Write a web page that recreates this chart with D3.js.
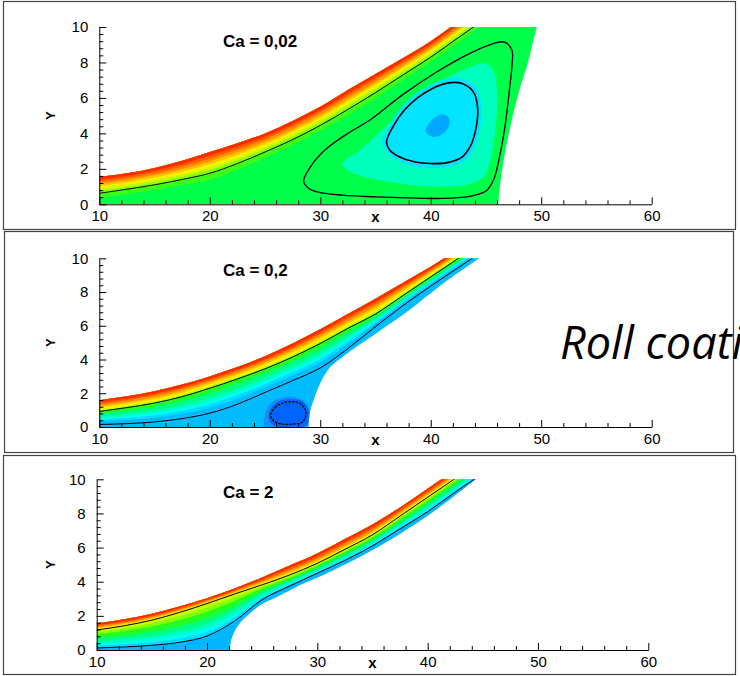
<!DOCTYPE html>
<html>
<head>
<meta charset="utf-8">
<script src="https://cdn.jsdelivr.net/npm/d3@7"></script>
<style>
  body { margin: 0; background: #fff; }
  svg { display: block; }
</style>
</head>
<body>
<script>
const xGrid = [10, 12.5, 15, 17.5, 20, 22.5, 25, 27.5, 30, 32.5, 35, 37.5, 40, 42.5, 45, 47.5, 50];

const xTicks = [10, 20, 30, 40, 50, 60];
const xMinor = [12, 14, 16, 18, 22, 24, 26, 28, 32, 34, 36, 38, 42, 44, 46, 48, 52, 54, 56, 58];
const yTicks = [0, 2, 4, 6, 8, 10];
const yMinor = [0.4, 0.8, 1.2, 1.6, 2.4, 2.8, 3.2, 3.6, 4.4, 4.8, 5.2, 5.6, 6.4, 6.8, 7.2, 7.6, 8.4, 8.8, 9.2, 9.6];

const titles = ["Ca = 0,02", "Ca = 0,2", "Ca = 2"];

// ---- Ca = 0,02
const roll1 = [1.55, 1.75, 2.05, 2.45, 2.95, 3.45, 4.0, 4.7, 5.5, 6.45, 7.35, 8.25, 9.2, 10.3, 11.4, 12.5, 13.6];
const stream1 = [0.62, 0.85, 1.1, 1.4, 1.75, 2.3, 2.95, 3.65, 4.45, 5.35, 6.3, 7.3, 8.3, 9.4, 10.5, 11.6, 12.7];
const free1 = [[46.1, 0], [46.3, 1.2], [46.6, 2.5], [47.0, 3.8], [47.5, 5.2], [48.1, 6.6], [48.8, 8.0], [49.6, 10], [50.1, 11]];
const loopOuter1 = [[28.5, 1.3], [29.1, 2.1], [30.5, 3.1], [32.5, 4.0], [34.5, 4.75], [37.5, 6.2], [40.5, 7.45], [43.5, 8.5],
  [45.6, 9.05], [46.7, 9.15], [47.35, 8.7], [47.35, 7.8], [47.15, 6.6], [46.7, 4.3], [46.2, 2.6], [45.7, 1.4], [45.0, 0.75],
  [43.5, 0.45], [41, 0.33], [38, 0.36], [35, 0.42], [32, 0.52], [30, 0.66], [29, 0.88]];
const loopInner1 = [[36.0, 3.5], [36.6, 4.4], [37.6, 5.3], [38.8, 6.0], [40.2, 6.55], [41.6, 6.85], [42.9, 6.8], [43.9, 6.3],
  [44.25, 5.4], [44.1, 4.3], [43.6, 3.3], [42.8, 2.65], [41.5, 2.35], [40, 2.3], [38.5, 2.4], [37.1, 2.7], [36.3, 3.05]];
const aqua1 = [[32.0, 2.3], [33.5, 3.0], [35, 3.85], [37, 5.0], [39, 6.05], [41, 6.95], [43, 7.6], [44.9, 7.95], [45.7, 7.5],
  [46.0, 6.2], [45.9, 4.5], [45.5, 2.8], [44.8, 1.55], [43.3, 1.1], [41.4, 1.0], [39, 1.05], [36.5, 1.25], [34.3, 1.5], [32.7, 1.85]];
const cyan1 = [[35.6, 3.5], [36.3, 4.5], [37.4, 5.5], [38.7, 6.25], [40.2, 6.8], [41.6, 7.1], [43.0, 7.05], [44.2, 6.5],
  [44.6, 5.4], [44.45, 4.2], [43.9, 3.1], [43.0, 2.4], [41.5, 2.1], [40, 2.05], [38.4, 2.15], [36.9, 2.5], [36.0, 2.95]];
const core1 = [[39.55, 4.1], [39.9, 4.6], [40.5, 4.95], [41.2, 5.07], [41.7, 4.8], [41.6, 4.35], [41.0, 3.95], [40.2, 3.8]];
const bandEdges1 = [0.17, 0.30, 0.44, 0.57, 0.70, 0.84, 1.02, 1.30];

// ---- Ca = 0,2
const roll2 = [1.58, 1.82, 2.12, 2.52, 3.0, 3.55, 4.2, 4.95, 5.8, 6.7, 7.6, 8.55, 9.5, 10.55, 11.6, 12.7, 13.8];
const streamA2 = [0.92, 1.15, 1.42, 1.8, 2.3, 2.85, 3.45, 4.15, 4.95, 5.85, 6.7, 7.8, 8.9, 10.0, 11.1, 12.2, 13.3];
const streamB2 = [0.15, 0.2, 0.3, 0.5, 0.82, 1.35, 2.05, 2.75, 3.5, 4.65, 5.95, 7.2, 8.35, 9.45, 10.55, 11.65, 12.75];
const free2 = [[28.93, 0], [29.05, 0.8], [29.4, 1.6], [30.0, 2.6], [30.9, 3.55], [32.1, 4.2], [33.6, 4.9], [35.5, 5.75],
  [38, 6.9], [41, 8.45], [44.6, 10.1], [46.9, 11.2]];
const eddy2 = [[25.5, 0.7], [25.9, 1.15], [26.6, 1.42], [27.4, 1.5], [28.1, 1.42], [28.6, 1.1], [28.7, 0.7], [28.4, 0.3],
  [27.6, 0.18], [26.5, 0.18], [25.8, 0.35]];
const halo2 = [[25.0, 0], [25.0, 0.7], [25.4, 1.35], [26.4, 1.72], [27.6, 1.78], [28.6, 1.5], [29.1, 0.9], [29.2, 0]];
const core2 = [[25.3, 0.7], [25.7, 1.25], [26.5, 1.58], [27.4, 1.65], [28.3, 1.55], [28.85, 1.15], [28.95, 0.6], [28.7, 0.1],
  [27.5, 0.02], [26.2, 0.02], [25.5, 0.25]];
const bandEdges2 = [0.2, 0.35, 0.5, 0.65, 0.8, 0.92, 1.0, 1.18, 1.38, 1.52, 1.64, 1.78];

// ---- Ca = 2
const roll3 = [1.56, 1.8, 2.12, 2.55, 3.03, 3.6, 4.25, 4.95, 5.65, 6.5, 7.35, 8.35, 9.45, 10.55, 11.65, 12.75, 13.85];
const streamA3 = [1.17, 1.42, 1.75, 2.2, 2.72, 3.28, 3.82, 4.4, 5.08, 5.9, 6.75, 7.85, 8.95, 10.05, 11.15, 12.25, 13.35];
const streamB3 = [0.12, 0.18, 0.28, 0.45, 0.82, 1.7, 2.95, 3.75, 4.5, 5.25, 6.1, 7.1, 8.1, 9.25, 10.35, 11.45, 12.55];
const free3 = [[22.07, 0], [22.2, 0.6], [22.5, 1.1], [23.0, 1.6], [23.8, 2.1], [25.0, 2.7], [26.6, 3.2], [28.4, 3.8],
  [30.5, 4.38], [34.8, 5.78], [40, 7.87], [44.6, 10.1], [47, 11.2]];
const bandEdges3 = [0.25, 0.45, 0.62, 0.8, 1.0, 1.12, 1.25, 1.45, 1.62, 1.75, 1.87, 2.0];

// contour band colours, from the roll wall downwards
const warmColors = ["#ff2a00", "#ff5c00", "#ff8e00", "#ffc200", "#ffef00", "#c6ff00", "#86ff00"];
const bandColors1 = warmColors.concat(["#3cff18"]);
const bandColors2 = warmColors.concat(["#22ff22", "#00ff80", "#00ffbe", "#00fff0", "#00dcff"]);
const bandColors3 = warmColors.slice(0, 5).concat(["#c6ff00", "#86ff00", "#22ff22", "#00ff80", "#00ffbe", "#00fff0", "#00dcff"]);

const panels = [
  { id: 1, box: [3.5, 1.5, 732, 228], xRange: [99.3, 651.7], yRange: [204.3, 27], titleY: 46.5,
    roll: roll1, lineA: stream1, lineB: null, free: free1, edges: bandEdges1, colors: bandColors1, base: "#00ff4a",
    patches: [[aqua1, "#00ffbc"], [cyan1, "#00e4ff"], [core1, "#00a8ff"]],
    loops: [[loopOuter1, 1.3, null], [loopInner1, 1.6, null]] },
  { id: 2, box: [4.5, 231.5, 729, 221], xRange: [99.3, 651.7], yRange: [427, 258.3], titleY: 275.5,
    roll: roll2, lineA: streamA2, lineB: streamB2, free: free2, edges: bandEdges2, colors: bandColors2, base: "#00bcff",
    patches: [[halo2, "#1a8cff"], [core2, "#0064ff"]],
    loops: [[eddy2, 1.3, "2.5,1.2"]] },
  { id: 3, box: [3.5, 455.5, 732, 219], xRange: [96.7, 648.3], yRange: [650, 479.3], titleY: 498,
    roll: roll3, lineA: streamA3, lineB: streamB3, free: free3, edges: bandEdges3, colors: bandColors3, base: "#00b6ff",
    patches: [], loops: [] }
];

const svg = d3.select("body").append("svg").attr("width", 740).attr("height", 676);
const defs = svg.append("defs");

function levelCurve(p, t) {
  return xGrid.map((xv, i) => {
    const r = p.roll[i], a = p.lineA[i];
    if (t <= 1 || !p.lineB) return [xv, r + t * (a - r)];
    const b = p.lineB[i];
    return [xv, a + (t - 1) * (b - a)];
  });
}

function drawPanel(p) {
  const x = d3.scaleLinear().domain([10, 60]).range(p.xRange);
  const y = d3.scaleLinear().domain([0, 10]).range(p.yRange);

  svg.append("rect")
    .attr("x", p.box[0]).attr("y", p.box[1])
    .attr("width", p.box[2]).attr("height", p.box[3])
    .attr("fill", "none").attr("stroke", "#444").attr("stroke-width", 1.2);

  const lineX = d3.line().x(d => x(d[0])).y(d => y(d[1])).curve(d3.curveMonotoneX);
  const lineC = d3.line().x(d => x(d[0])).y(d => y(d[1])).curve(d3.curveCatmullRom);
  const loopC = d3.line().x(d => x(d[0])).y(d => y(d[1])).curve(d3.curveCatmullRomClosed);
  const above = d3.area().x(d => x(d[0])).y0(y(20)).y1(d => y(d[1])).curve(d3.curveMonotoneX);

  const rollPts = xGrid.map((xv, i) => [xv, p.roll[i]]);
  const domainD = lineX(rollPts) + lineC(p.free.slice().reverse()).replace(/^M/, "L") + `L${x(10)},${y(0)}Z`;

  defs.append("clipPath").attr("id", "plot" + p.id).append("rect")
    .attr("x", x(10)).attr("y", y(10))
    .attr("width", x(60) - x(10)).attr("height", y(0) - y(10));
  defs.append("clipPath").attr("id", "film" + p.id).append("path").attr("d", domainD);

  const fills = svg.append("g").attr("clip-path", `url(#plot${p.id})`)
    .append("g").attr("clip-path", `url(#film${p.id})`);

  fills.append("rect")
    .attr("x", x(10)).attr("y", y(20))
    .attr("width", x(60) - x(10)).attr("height", y(0) - y(20))
    .attr("fill", p.base);

  // bands painted from the deepest one up to the wall
  for (let k = p.edges.length - 1; k >= 0; k--) {
    fills.append("path").attr("d", above(levelCurve(p, p.edges[k]))).attr("fill", p.colors[k]);
  }

  p.patches.forEach(([pts, col]) => {
    fills.append("path").attr("d", loopC(pts)).attr("fill", col);
  });

  const lines = svg.append("g").attr("clip-path", `url(#plot${p.id})`)
    .attr("fill", "none").attr("stroke", "#000");
  [p.lineA, p.lineB].filter(Boolean).forEach(arr => {
    lines.append("path").attr("d", lineX(xGrid.map((xv, i) => [xv, arr[i]]))).attr("stroke-width", 1);
  });
  p.loops.forEach(([pts, w, dash]) => {
    lines.append("path").attr("d", loopC(pts)).attr("stroke-width", w)
      .attr("stroke-dasharray", dash);
  });

  // axes, ticks pointing into the plot
  const font = "'Liberation Sans', Arial, sans-serif";
  const gx = svg.append("g").attr("transform", `translate(0,${y(0)})`);
  gx.append("g").call(d3.axisBottom(x).tickValues(xMinor).tickSizeInner(-4).tickSizeOuter(0).tickFormat(""))
    .call(g => g.select(".domain").remove());
  gx.append("g").call(d3.axisBottom(x).tickValues(xTicks).tickSizeInner(-7).tickSizeOuter(0).tickPadding(6).tickFormat(d3.format("d")))
    .attr("font-size", 15).attr("font-family", font);

  const gy = svg.append("g").attr("transform", `translate(${x(10)},0)`);
  gy.append("g").call(d3.axisLeft(y).tickValues(yMinor).tickSizeInner(-4).tickSizeOuter(0).tickFormat(""))
    .call(g => g.select(".domain").remove());
  gy.append("g").call(d3.axisLeft(y).tickValues(yTicks).tickSizeInner(-7).tickSizeOuter(0).tickPadding(11).tickFormat(d3.format("d")))
    .attr("font-size", 15).attr("font-family", font);

  svg.selectAll(".tick text").attr("fill", "#000");

  svg.append("text")
    .attr("x", x(35)).attr("y", y(0) + 17.5)
    .attr("text-anchor", "middle")
    .attr("font-family", font).attr("font-weight", "bold").attr("font-size", 15)
    .text("x");
  svg.append("text")
    .attr("transform", `translate(55,${(y(0) + y(10)) / 2}) rotate(-90)`)
    .attr("text-anchor", "middle")
    .attr("font-family", font).attr("font-weight", "bold").attr("font-size", 13)
    .text("Y");
  svg.append("text")
    .attr("x", 223).attr("y", p.titleY)
    .attr("font-family", font).attr("font-weight", "bold").attr("font-size", 17)
    .text(titles[p.id - 1]);
}

panels.forEach(drawPanel);

// slide caption, running off the right edge as in the original
svg.append("text")
  .attr("x", 560).attr("y", 359)
  .attr("font-family", "'Open Sans', 'Noto Sans', sans-serif")
  .attr("font-style", "italic").attr("font-size", 45)
  .text("Roll coating");
</script>
</body>
</html>
